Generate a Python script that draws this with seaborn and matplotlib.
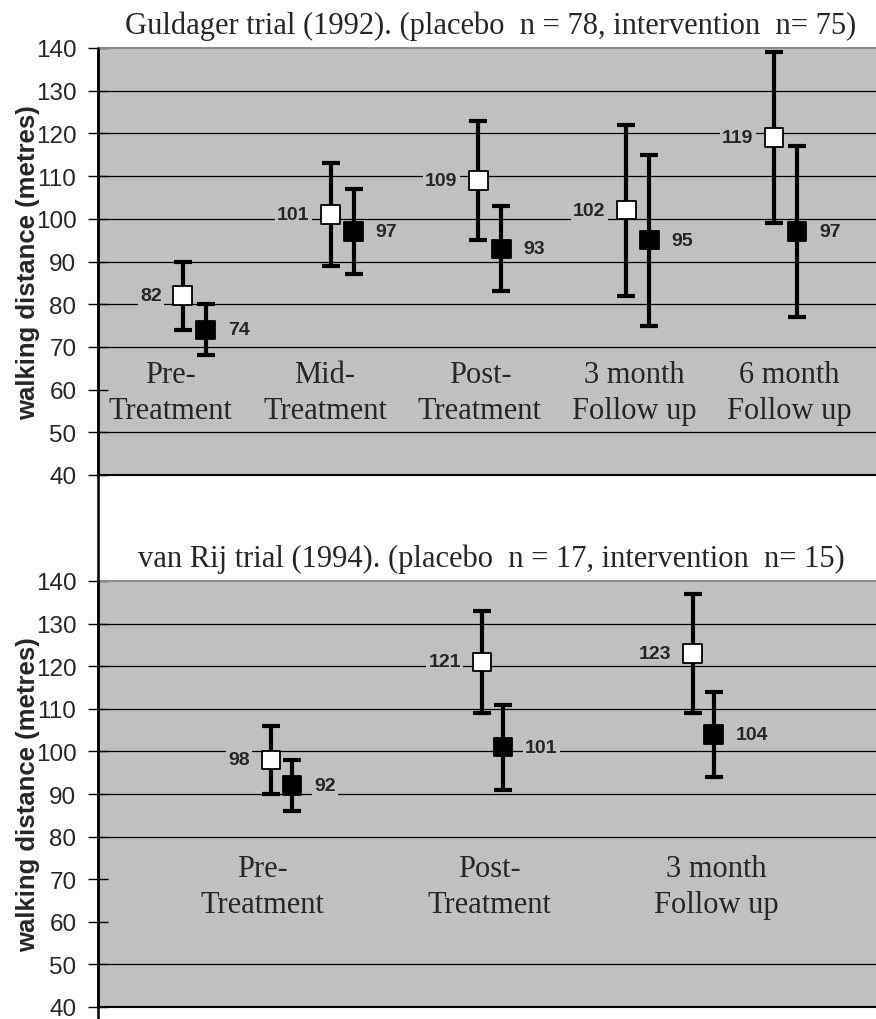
import numpy as np
import pandas as pd
import seaborn as sns
import matplotlib.pyplot as plt
from matplotlib.lines import Line2D

# Guldager trial (1992)
g_title = "Guldager trial (1992). (placebo  n = 78, intervention  n= 75)"
g_phases = ["Pre-\nTreatment", "Mid-\nTreatment", "Post-\nTreatment",
            "3 month\nFollow up", "6 month\nFollow up"]
g_placebo = [82, 101, 109, 102, 119]
g_placebo_err = [8, 12, 14, 20, 20]
g_interv = [74, 97, 93, 95, 97]
g_interv_err = [6, 10, 10, 20, 20]

# van Rij trial (1994)
v_title = "van Rij trial (1994). (placebo  n = 17, intervention  n= 15)"
v_phases = ["Pre-\nTreatment", "Post-\nTreatment", "3 month\nFollow up"]
v_placebo = [98, 121, 123]
v_placebo_err = [8, 12, 14]
v_interv = [92, 101, 104]
v_interv_err = [6, 10, 10]

y_ticks = [40, 50, 60, 70, 80, 90, 100, 110, 120, 130, 140]

sns.set_style("white")
plt.rcParams["font.family"] = ["Liberation Sans", "DejaVu Sans"]

BG = "#c0c0c0"
SERIF = ["Liberation Serif", "DejaVu Serif"]

fig = plt.figure(figsize=(8.76, 10.2), dpi=100)
left = 98 / 876
ax1 = fig.add_axes([left, 1 - 476 / 1020, 1 - left, (476 - 49) / 1020])
ax2 = fig.add_axes([left, 1 - 1008 / 1020, 1 - left, (1008 - 582) / 1020])


def draw_panel(ax, title, phases, plac, plac_err, intv, intv_err, off, xlim,
               lab_y, lab_shift, lab_step, hidden):
    n = len(phases)
    idx = np.arange(n)
    ax.set_facecolor(BG)
    ax.set_xlim(*xlim)
    ax.set_ylim(40, 140)

    # gridlines (some hidden behind the category labels in the original)
    for v in y_ticks[1:-1]:
        if v not in hidden:
            ax.axhline(v, color="black", lw=0.9, zorder=1)

    ax.errorbar(idx - off, plac, yerr=plac_err, fmt="none", ecolor="black",
                elinewidth=3, capsize=6.5, capthick=3, zorder=2)
    ax.errorbar(idx + off, intv, yerr=intv_err, fmt="none", ecolor="black",
                elinewidth=3, capsize=6.5, capthick=3, zorder=2)

    df = pd.DataFrame({
        "x": np.r_[idx - off, idx + off],
        "y": plac + intv,
        "group": ["placebo"] * n + ["intervention"] * n,
    })
    sns.scatterplot(data=df, x="x", y="y", hue="group",
                    palette={"placebo": "white", "intervention": "black"},
                    marker="s", s=175, edgecolor="black", linewidth=1.3,
                    legend=False, ax=ax, zorder=3)

    box = dict(facecolor=BG, edgecolor="none", pad=1.5)
    for i in idx:
        ax.annotate(str(plac[i]), (i - off, plac[i]), xytext=(-15, 0),
                    textcoords="offset points", ha="right", va="center",
                    fontsize=14, fontweight="bold", bbox=box, zorder=4)
        ax.annotate(str(intv[i]), (i + off, intv[i]), xytext=(16, 0),
                    textcoords="offset points", ha="left", va="center",
                    fontsize=14, fontweight="bold", bbox=box, zorder=4)
        ax.text(lab_shift + i * lab_step, lab_y, phases[i], ha="center",
                va="center", fontsize=22, family=SERIF, linespacing=1.3,
                zorder=4)

    ax.set_title(title, fontsize=22, family=SERIF, pad=11, x=0.505)
    ax.set_xticks([])
    ax.set_yticks(y_ticks)
    ax.tick_params(axis="y", direction="inout", length=14, width=1,
                   color="black", labelsize=17.5, pad=8.5, left=True)
    ax.set_xlabel("")
    ax.set_ylabel("walking distance (metres)", fontsize=18.5,
                  fontweight="bold")
    ax.yaxis.set_label_coords(-0.074, 0.5)
    ax.spines["left"].set_color("black")
    ax.spines["left"].set_linewidth(1.8)
    ax.spines["bottom"].set_color("black")
    ax.spines["bottom"].set_linewidth(1.5)
    ax.spines["top"].set_color("#8c8c8c")
    ax.spines["top"].set_linewidth(1.5)
    ax.spines["right"].set_visible(False)


draw_panel(ax1, g_title, g_phases, g_placebo, g_placebo_err, g_interv,
           g_interv_err, 0.078, (-0.65, 4.61), 59.3, -0.162, 1.047, [60])
draw_panel(ax2, v_title, v_phases, v_placebo, v_placebo_err, v_interv,
           v_interv_err, 0.05, (-0.87, 2.82), 68.3, -0.09, 1.076, [60, 70])

# the value axis runs on between and below the two panels
fig.add_artist(Line2D([left, left], [0, 1 - 49 / 1020], color="black",
                      lw=1.8, transform=fig.transFigure))

fig.savefig("out.png", dpi=100, facecolor="white")
